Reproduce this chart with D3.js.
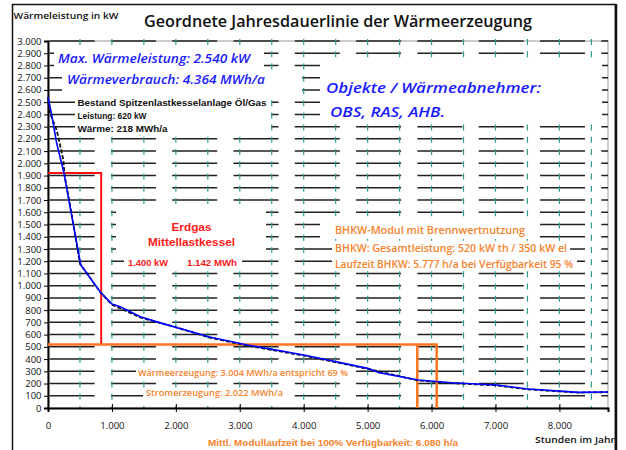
<!DOCTYPE html>
<html>
<head>
<meta charset="utf-8">
<script src="https://cdn.jsdelivr.net/npm/d3@7"></script>
<style>
  body { margin: 0; background: #fff; }
  text { font-family: "Open Sans", "Noto Sans", sans-serif; }
  .arial { font-family: "Liberation Sans", Arial, sans-serif; font-weight: bold; }
</style>
</head>
<body>
<div id="chart"></div>
<script>
// ordered annual load duration curve (hours of year vs. heat load in kW)
var hours   = [0, 58, 136, 251, 345, 513, 827, 1000, 1130, 1444, 1732, 2512, 3119, 4003, 5003, 5180, 5787, 6311, 7017, 7515, 8300, 8760];
var loadKW  = [2540, 2395, 2164, 1918, 1646, 1169, 943, 850, 828, 746, 700, 583, 515, 433, 324, 289, 229, 207, 188, 155, 128, 131];
// second (dashed black) curve underneath
var hours2  = [0, 31, 136, 199, 240, 259, 345, 500, 827, 1000, 1444, 2000, 2512, 3119, 4003, 5003, 5787, 6311, 7017, 7515, 8300, 8760];
var loadKW2 = [2540, 2411, 2272, 2126, 2027, 1900, 1660, 1180, 940, 845, 740, 660, 578, 510, 428, 320, 225, 203, 185, 152, 126, 130];

var xTicks = [0, 1000, 2000, 3000, 4000, 5000, 6000, 7000, 8000];
var yTicks = d3.range(0, 3001, 100);
var xGrid  = d3.range(500, 8760, 500);

// boiler blocks
var midLoad = 1920, midHours = 832;          // Erdgas Mittellastkessel
var chpLoad = 520, chpHours = 5777, chpFull = 6080;  // BHKW

function init() {
    var w = 626, h = 450;
    var left = 48, right = 608, top = 41, bottom = 408;

    var loc = d3.formatLocale({decimal: ",", thousands: ".", grouping: [3], currency: ["", " €"]});
    var fmt = loc.format(",");

    var x = d3.scaleLinear().domain([0, 8760]).range([left, right]);
    var y = d3.scaleLinear().domain([0, 3000]).range([bottom, top]);

    var svg = d3.select("#chart").append("svg")
        .attr("width", w)
        .attr("height", h);

    // outer frame
    svg.append("rect")
        .attr("x", 12.5).attr("y", 4.5)
        .attr("width", 603).attr("height", 460)
        .attr("fill", "white").attr("stroke", "#111").attr("stroke-width", 1.5);
    svg.append("line")
        .attr("x1", 616).attr("x2", 616).attr("y1", 4).attr("y2", 450)
        .attr("stroke", "#111").attr("stroke-width", 2.5);

    // plot border
    svg.append("rect")
        .attr("x", left).attr("y", top)
        .attr("width", right - left).attr("height", bottom - top)
        .attr("fill", "none").attr("stroke", "#999").attr("stroke-width", 1);

    // horizontal grid (long dashes)
    svg.append("g").selectAll("line")
        .data(yTicks.filter(function (d) { return d > 0; }))
        .enter().append("line")
        .attr("x1", left + 1.6).attr("x2", right)
        .attr("y1", function (d) { return y(d); })
        .attr("y2", function (d) { return y(d); })
        .attr("stroke", "#222").attr("stroke-width", 1.5)
        .attr("stroke-dasharray", "45,16.3");

    // vertical grid (teal short dashes)
    svg.append("g").selectAll("line")
        .data(xGrid)
        .enter().append("line")
        .attr("x1", function (d) { return x(d); })
        .attr("x2", function (d) { return x(d); })
        .attr("y1", top - 2).attr("y2", bottom)
        .attr("stroke", "#2f9a92").attr("stroke-width", 1.2)
        .attr("stroke-dasharray", "6,6.23");

    // white text boxes covering the grid
    var boxes = [
        [54, 46, 210, 26], [62, 72, 240, 24], [75, 96, 196, 38],
        [320, 59, 282, 62], [116, 205, 150, 52], [124, 256, 118, 12],
        [320, 219, 220, 20], [332, 242, 238, 14], [332, 257, 245, 14],
        [136, 365, 214, 13], [143, 388, 143, 12]
    ];
    svg.append("g").selectAll("rect")
        .data(boxes)
        .enter().append("rect")
        .attr("x", function (d) { return d[0]; })
        .attr("y", function (d) { return d[1]; })
        .attr("width", function (d) { return d[2]; })
        .attr("height", function (d) { return d[3]; })
        .attr("fill", "white");

    // axes
    var yAxis = d3.axisLeft(y).tickValues(yTicks).tickFormat(fmt).tickSize(4).tickPadding(2.5);
    var gy = svg.append("g").attr("transform", "translate(" + left + ",0)").call(yAxis);
    gy.select(".domain").attr("stroke", "#000").attr("stroke-width", 2);
    gy.selectAll("text").attr("font-size", 9.5).attr("font-family", "Open Sans").attr("fill", "#111");

    var xAxis = d3.axisBottom(x).tickValues(xTicks).tickFormat(fmt).tickSize(4).tickPadding(10.5);
    var gx = svg.append("g").attr("transform", "translate(0," + bottom + ")").call(xAxis);
    gx.select(".domain").attr("stroke", "#000").attr("stroke-width", 2);
    gx.selectAll(".tick line").attr("y1", -4);
    gx.selectAll("text").attr("font-size", 9.5).attr("font-family", "Open Sans").attr("fill", "#111");

    // red block (Mittellast)
    svg.append("path")
        .attr("d", "M" + x(0) + "," + y(midLoad) + "H" + x(midHours) + "V" + y(chpLoad))
        .attr("fill", "none").attr("stroke", "#ff1010").attr("stroke-width", 2);

    // orange block (BHKW)
    svg.append("path")
        .attr("d", "M" + x(0) + "," + y(chpLoad) + "H" + x(chpFull) + "V" + y(0) +
                   "M" + x(chpHours) + "," + y(chpLoad) + "V" + y(0))
        .attr("fill", "none").attr("stroke", "#ff7420").attr("stroke-width", 2.5);

    // curves
    var line = d3.line()
        .x(function (d) { return x(d[0]); })
        .y(function (d) { return y(d[1]); });

    svg.append("path")
        .datum(d3.zip(hours2, loadKW2))
        .attr("d", line)
        .attr("fill", "none").attr("stroke", "#111").attr("stroke-width", 1.8)
        .attr("stroke-dasharray", "4,2");

    svg.append("path")
        .datum(d3.zip(hours, loadKW))
        .attr("d", line)
        .attr("fill", "none").attr("stroke", "#0000ff").attr("stroke-width", 1.6);

    // texts
    function label(t, tx, ty, size, color, opts) {
        opts = opts || {};
        var el = svg.append("text")
            .attr("x", tx).attr("y", ty)
            .attr("font-size", size)
            .attr("fill", color)
            .text(t);
        if (opts.cls) el.attr("class", opts.cls);
        if (opts.italic) el.attr("font-style", "italic");
        if (opts.weight) el.attr("font-weight", opts.weight);
        if (opts.anchor) el.attr("text-anchor", opts.anchor);
        if (opts.len) el.attr("textLength", opts.len).attr("lengthAdjust", "spacingAndGlyphs");
        return el;
    }

    label("Wärmeleistung in kW", 13.5, 18.5, 9.5, "#111", {weight: 600, len: 105});
    label("Geordnete Jahresdauerlinie der Wärmeerzeugung", 144, 26.5, 16, "#111", {weight: 600, len: 388});
    label("Stunden im Jahr", 535, 443, 9.5, "#111", {weight: 600, len: 80});

    var blue = "#1a1aff";
    label("Max. Wärmeleistung:  2.540 kW", 58, 63, 12.5, blue, {italic: true, weight: 600, len: 192});
    label("Wärmeverbrauch:  4.364 MWh/a", 67, 84, 12.5, blue, {italic: true, weight: 600, len: 198});
    label("Objekte / Wärmeabnehmer:", 326, 93, 15, blue, {italic: true, weight: 600, len: 215});
    label("OBS,  RAS, AHB.", 330, 117, 15, blue, {italic: true, weight: 600, len: 115});

    label("Bestand Spitzenlastkesselanlage Öl/Gas", 77.5, 106, 8.5, "#111", {cls: "arial", len: 189});
    label("Leistung: 620 kW", 77.5, 119, 8.5, "#111", {cls: "arial", len: 69});
    label("Wärme: 218 MWh/a", 77.5, 131.5, 8.5, "#111", {cls: "arial", len: 90});

    var red = "#ff1a1a";
    label("Erdgas", 191.5, 231, 11.5, red, {cls: "arial", anchor: "middle", len: 40});
    label("Mittellastkessel", 191.5, 245.5, 11.5, red, {cls: "arial", anchor: "middle", len: 87});
    label("1.400 kW", 128, 265.5, 8.5, red, {cls: "arial", len: 40});
    label("1.142 MWh", 187, 265.5, 8.5, red, {cls: "arial", len: 50});

    var orange = "#f7822c";
    label("BHKW-Modul mit Brennwertnutzung", 335, 234, 10.5, orange, {weight: 600, len: 190});
    label("BHKW: Gesamtleistung: 520 kW th /  350  kW el", 335, 251.5, 10.5, orange, {weight: 600, len: 232});
    label("Laufzeit BHKW:  5.777 h/a bei Verfügbarkeit 95 %", 335, 268, 10.5, orange, {weight: 600, len: 238});
    label("Wärmeerzeugung:  3.004 MWh/a entspricht  69 %", 138, 376, 9, orange, {weight: 600, len: 210});
    label("Stromerzeugung:  2.022 MWh/a", 146, 396, 9, orange, {weight: 600, len: 137});
    label("Mittl. Modullaufzeit bei 100% Verfügbarkeit:  6.080 h/a", 208, 446, 9, orange, {cls: "arial", len: 250});
}

window.onload = init;
</script>
</body>
</html>
